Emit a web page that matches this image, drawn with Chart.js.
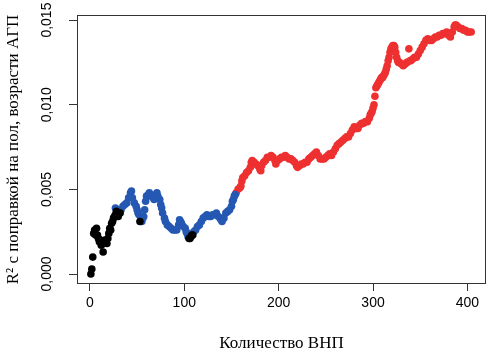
<!DOCTYPE html>
<html>
<head>
<meta charset="utf-8">
<script src="https://cdn.jsdelivr.net/npm/chart.js@4"></script>
<style>
html,body{margin:0;padding:0;background:#fff;}
#wrap{width:490px;height:361px;}
</style>
</head>
<body>
<div id="wrap"><canvas id="c" width="490" height="361"></canvas></div>
<script>
const xTickLabels = ['0','100','200','300','400'];
const yTickLabels = ['0,000','0,005','0,010','0,015'];
const xTitle = 'Количество ВНП';
const yTitle = 'R² с поправкой на пол, возрасти АГП';

const blackX = [1,2,3,4,5,6,7,8,9,10,11,12,13,14,15,16,17,18,19,20,21,22,23,24,25,26,27,28,29,30,31,32,53,105,106,107,108,109];
const blackY = [0.0000,0.0003,0.0010,0.0024,0.0026,0.0023,0.0027,0.0023,0.0021,0.0019,0.0020,0.0017,0.0018,0.0013,0.0019,0.0020,0.0019,0.0018,0.0021,0.0024,0.0027,0.0026,0.0030,0.0031,0.0033,0.0034,0.0035,0.0037,0.0035,0.0034,0.0036,0.0036,0.0031,0.0021,0.0021,0.0022,0.0023,0.0023];

const blueX = [27,29,31,33,35,37,39,41,43,44,45,47,49,50,51,52,54,55,56,57,58,59,60,62,63,65,67,68,70,71,72,74,75,76,77,79,80,82,84,86,88,90,92,94,95,96,97,99,101,102,103,104,110,112,114,116,118,120,122,124,126,128,130,132,134,136,138,139,140,142,144,146,148,150,151,152,153,154];
const blueY = [0.0039,0.0038,0.0037,0.0038,0.0040,0.0041,0.0042,0.0045,0.0048,0.0049,0.0045,0.0042,0.0040,0.0038,0.0036,0.0035,0.0032,0.0031,0.0033,0.0034,0.0038,0.0043,0.0046,0.0047,0.0048,0.0046,0.0045,0.0044,0.0047,0.0048,0.0046,0.0044,0.0041,0.0039,0.0036,0.0033,0.0031,0.0029,0.0028,0.0027,0.0026,0.0026,0.0026,0.0029,0.0032,0.0031,0.0030,0.0028,0.0027,0.0025,0.0024,0.0022,0.0025,0.0026,0.0028,0.0029,0.0031,0.0033,0.0034,0.0035,0.0034,0.0034,0.0035,0.0035,0.0036,0.0034,0.0033,0.0032,0.0031,0.0033,0.0036,0.0037,0.0038,0.0040,0.0043,0.0044,0.0046,0.0047];

const redX = [155,157,159,160,161,162,164,166,168,170,171,172,174,176,178,180,181,182,184,186,188,190,192,194,196,197,199,201,203,205,207,209,211,213,215,217,219,220,222,224,226,228,230,232,234,236,238,240,242,244,246,248,250,252,254,256,258,260,262,264,266,268,270,272,274,276,278,280,282,284,286,288,290,292,294,296,297,298,299,300,301,302,303,304,305,306,307,308,309,310,311,312,313,314,315,316,317,318,319,320,321,322,323,324,325,326,327,328,330,332,334,336,338,339,340,342,344,346,348,350,352,354,356,358,360,362,364,366,368,370,372,374,376,378,380,382,384,386,387,388,390,392,394,396,398,400,402,404];
const redY = [0.0048,0.0050,0.0051,0.0052,0.0055,0.0057,0.0058,0.0060,0.0061,0.0063,0.0066,0.0067,0.0066,0.0065,0.0064,0.0062,0.0061,0.0064,0.0066,0.0067,0.0069,0.0069,0.0070,0.0069,0.0067,0.0065,0.0067,0.0068,0.0069,0.0069,0.0070,0.0069,0.0068,0.0068,0.0067,0.0066,0.0064,0.0063,0.0064,0.0065,0.0065,0.0066,0.0066,0.0068,0.0069,0.0070,0.0071,0.0072,0.0070,0.0068,0.0068,0.0068,0.0069,0.0070,0.0071,0.0070,0.0072,0.0074,0.0076,0.0077,0.0078,0.0079,0.0080,0.0081,0.0081,0.0083,0.0085,0.0087,0.0086,0.0086,0.0088,0.0089,0.0089,0.0090,0.0090,0.0092,0.0094,0.0095,0.0096,0.0098,0.0100,0.0105,0.0110,0.0111,0.0112,0.0113,0.0114,0.0115,0.0116,0.0116,0.0117,0.0118,0.0119,0.0121,0.0123,0.0126,0.0128,0.0131,0.0133,0.0134,0.0135,0.0135,0.0134,0.0131,0.0128,0.0126,0.0125,0.0125,0.0124,0.0123,0.0124,0.0125,0.0133,0.0126,0.0126,0.0127,0.0128,0.0128,0.0130,0.0132,0.0134,0.0136,0.0138,0.0139,0.0138,0.0138,0.0139,0.0140,0.0140,0.0141,0.0141,0.0142,0.0142,0.0143,0.0141,0.0140,0.0143,0.0146,0.0147,0.0147,0.0146,0.0145,0.0145,0.0144,0.0144,0.0143,0.0143,0.0143];

function pts(xs, ys){ return xs.map((x,i)=>({x:x, y:ys[i]})); }

const boxPlugin = {
  id: 'boxAndLabels',
  afterDraw(chart){
    const {ctx, chartArea:a, scales} = chart;
    ctx.save();
    ctx.strokeStyle = '#333';
    ctx.lineWidth = 1;
    ctx.strokeRect(Math.round(a.left)+0.5, Math.round(a.top)+0.5, Math.round(a.right-a.left)-1, Math.round(a.bottom-a.top)-1);
    const ys = scales.y;
    ctx.fillStyle = '#000';
    ctx.font = '14px "Liberation Sans", Arial, sans-serif';
    ctx.textAlign = 'center';
    ctx.textBaseline = 'middle';
    ys.ticks.forEach(t=>{
      const idx = Math.round(t.value/0.005);
      const lab = yTickLabels[idx];
      if (lab === undefined) return;
      const py = ys.getPixelForValue(t.value);
      ctx.save();
      ctx.translate(47, py);
      ctx.rotate(-Math.PI/2);
      ctx.fillText(lab, 0, 0);
      ctx.restore();
    });
    ctx.restore();
  }
};

new Chart(document.getElementById('c'), {
  type: 'scatter',
  data: {
    datasets: [
      {data: pts(blackX, blackY), backgroundColor:'#000000', borderWidth:0, pointRadius:3.8},
      {data: pts(blueX, blueY), backgroundColor:'#2558b2', borderWidth:0, pointRadius:3.8},
      {data: pts(redX, redY), backgroundColor:'#ee3030', borderWidth:0, pointRadius:3.8}
    ]
  },
  options: {
    responsive:false,
    animation:false,
    events: [],
    layout:{padding:{top:15,right:3,left:0,bottom:0}},
    plugins:{legend:{display:false}, tooltip:{enabled:false}},
    scales:{
      x:{
        type:'linear', min:-13.7, max:419.7,
        afterFit(s){ s.height = 77; },
        border:{display:false},
        grid:{display:true, drawOnChartArea:false, drawTicks:true, tickLength:7, color:'#333', lineWidth:1},
        ticks:{stepSize:100, includeBounds:false, color:'#000', padding:4,
          font:{family:'"Liberation Sans", Arial, sans-serif', size:14},
          maxRotation:0, minRotation:0,
          callback:(v)=>{ const i = Math.round(v/100); return (Math.abs(v-i*100)<1e-6 && xTickLabels[i]!==undefined) ? xTickLabels[i] : ''; }
        },
        title:{display:true, text:xTitle, color:'#000',
          font:{family:'"Liberation Serif", "Times New Roman", serif', size:17},
          padding:{top:0,bottom:7}}
      },
      y:{
        type:'linear', min:-0.00059, max:0.0153,
        afterFit(s){ s.width = 77; },
        border:{display:false},
        grid:{display:true, drawOnChartArea:false, drawTicks:true, tickLength:8, color:'#333', lineWidth:1},
        ticks:{stepSize:0.005, includeBounds:false, display:false},
        title:{display:true, text:yTitle, color:'#000',
          font:{family:'"Liberation Serif", "Times New Roman", serif', size:17},
          padding:{top:3,bottom:0}}
      }
    }
  },
  plugins:[boxPlugin]
});
</script>
</body>
</html>
